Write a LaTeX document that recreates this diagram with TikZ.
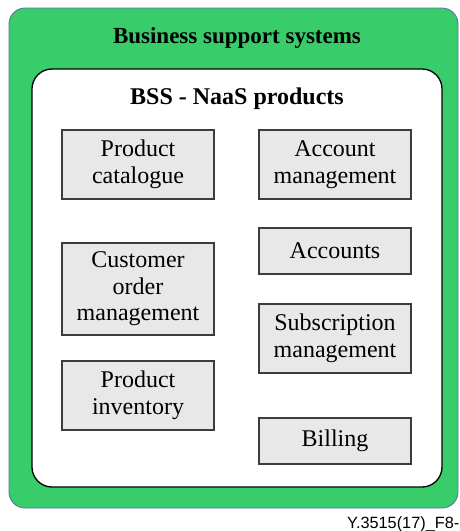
\documentclass[tikz,border=0pt]{standalone}
\usepackage{fontspec}
\setmainfont{Liberation Serif}
\newfontfamily\footfont{Liberation Sans}
\definecolor{bssgreen}{RGB}{56,204,106}
\definecolor{bssedge}{RGB}{90,120,160}
\definecolor{boxfill}{RGB}{232,232,232}
\definecolor{boxedge}{RGB}{60,60,60}
\begin{document}
\begin{tikzpicture}[x=1pt,y=-1pt,
  outerframe/.style={fill=bssgreen,draw=bssedge,line width=0.9pt,rounded corners=16pt},
  innerframe/.style={fill=white,draw=black,line width=1.3pt,rounded corners=20pt},
  heading/.style={font=\bfseries\fontsize{23}{27}\selectfont,inner sep=0pt},
  product/.style={draw=boxedge,fill=boxfill,line width=1.1pt,minimum width=152pt,
    align=center,inner sep=0pt,font=\fontsize{24}{26.5}\selectfont},
  footer/.style={font=\footfont\fontsize{16.3}{18}\selectfont,inner sep=0pt,anchor=base east}]
  \useasboundingbox (0,0) rectangle (459,531);
  % frames
  \path[outerframe] (9,8) rectangle (458,508);
  \path[innerframe] (32,69) rectangle (442,487);
  % headings
  \node[heading] (bss) at (237,38) {Business support systems};
  \node[heading,font=\bfseries\fontsize{24}{27}\selectfont] (naas) at (237,99) {BSS - NaaS products};
  % left column
  \node[product,minimum height=69pt] (catalogue) at (138,164.5) {Product\\catalogue};
  \node[product,minimum height=92pt] (order) at (138,289) {Customer\\order\\management};
  \node[product,minimum height=69pt] (inventory) at (138,395.5) {Product\\inventory};
  % right column
  \node[product,minimum height=69pt] (accmgmt) at (335,164.5) {Account\\management};
  \node[product,minimum height=46pt] (accounts) at (335,251) {Accounts};
  \node[product,minimum height=69pt] (subscr) at (335,338.5) {Subscription\\management};
  \node[product,minimum height=46pt] (billing) at (335,441) {Billing};
  % figure reference
  \node[footer] (figref) at (459.5,528) {Y.3515(17)\_F8-};
\end{tikzpicture}
\end{document}
